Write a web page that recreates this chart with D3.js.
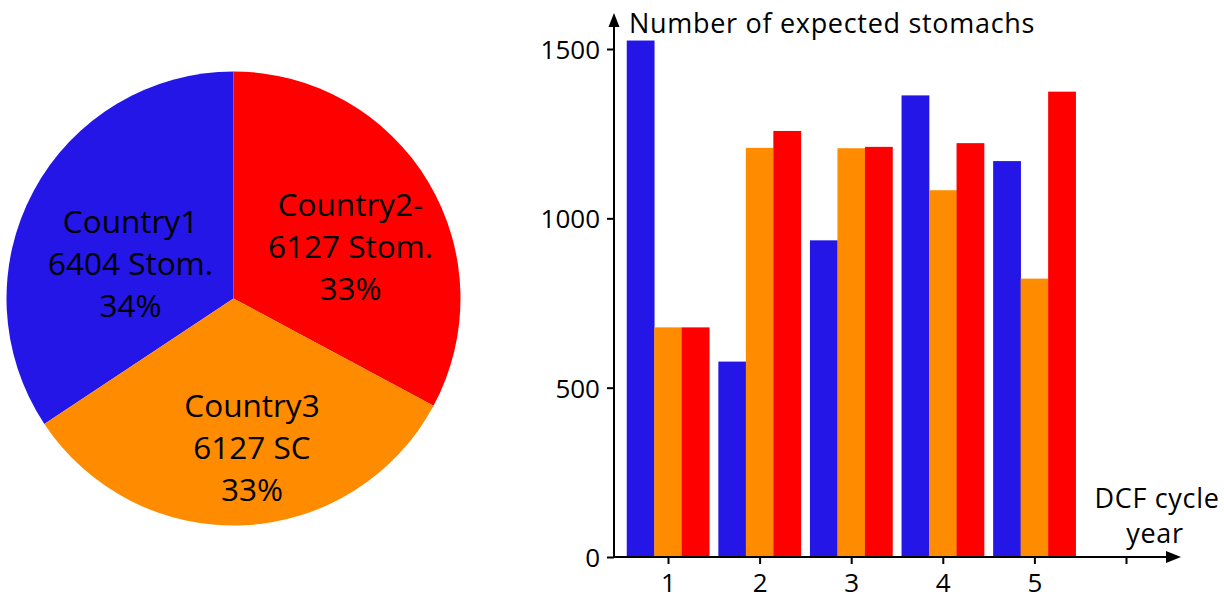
<!DOCTYPE html>
<html>
<head>
<meta charset="utf-8">
<script src="https://cdn.jsdelivr.net/npm/d3@7"></script>
<style>
  html, body { margin: 0; padding: 0; background: #fff; }
  svg { display: block; }
  text { font-family: "Open Sans", "Noto Sans", sans-serif; fill: #000; }
</style>
</head>
<body>
<svg id="chart" width="1224" height="599"></svg>
<script>
// ---- data ----
const countries = ["Country1", "Country2", "Country3"];
const stomachs = [6404, 6127, 6127];
const pieLabels = [
  ["Country1", "6404 Stom.", "34%"],
  ["Country2-", "6127 Stom.", "33%"],
  ["Country3", "6127 SC", "33%"]
];
const years = ["1", "2", "3", "4", "5"];
const country1Bars = [1525, 577, 935, 1363, 1169];
const country3Bars = [678, 1208, 1207, 1083, 822];
const country2Bars = [678, 1258, 1211, 1222, 1374];
const yTicks = [0, 500, 1000, 1500];
const colors = { Country1: "#2416e6", Country2: "#ff0000", Country3: "#ff8c00" };

const svg = d3.select("#chart");

// ---- pie ----
const total = d3.sum(stomachs);
const offset = 2 * Math.PI * stomachs[0] / total;
const pie = d3.pie().sort(null).startAngle(-offset).endAngle(2 * Math.PI - offset);
const pieData = pie(stomachs);
const pieG = svg.append("g").attr("transform", "translate(233.5,298.5)");
const arc = d3.arc().innerRadius(0).outerRadius(227);
pieG.selectAll("path").data(pieData).join("path")
  .attr("d", arc)
  .attr("fill", (d, i) => colors[countries[i]]);

const labelPos = [[-103, -66], [117, -83], [18.5, 118]];
pieLabels.forEach((lines, i) => {
  const t = pieG.append("text")
    .attr("text-anchor", "middle")
    .attr("font-size", 31.5)
    .attr("transform", `translate(${labelPos[i][0]},${labelPos[i][1]})`);
  lines.forEach((l, j) => t.append("tspan").attr("x", 0).attr("y", j * 42).text(l));
});

// ---- bar chart ----
const y = d3.scaleLinear().domain([0, 1500]).range([557, 49]);
const x = d3.scaleLinear().domain([1, 6]).range([668, 1126]);
const seriesNames = ["Country1", "Country3", "Country2"];
const seriesVals = [country1Bars, country3Bars, country2Bars];
const xSub = d3.scaleBand().domain(seriesNames).range([-41.25, 41.25]).padding(0);

const barsG = svg.append("g");
seriesNames.forEach((s, si) => {
  barsG.selectAll(null).data(seriesVals[si]).join("rect")
    .attr("x", (d, i) => x(+years[i]) + xSub(s))
    .attr("width", xSub.bandwidth() + 0.3)
    .attr("y", d => y(d))
    .attr("height", d => y(0) - y(d))
    .attr("fill", colors[s]);
});

// y axis
const yAxis = svg.append("g").attr("transform", "translate(614,0)")
  .call(d3.axisLeft(y).tickValues(yTicks).tickFormat(d3.format("d")).tickSize(7).tickPadding(7));
yAxis.select(".domain").remove();
yAxis.selectAll("line").attr("stroke", "#000").attr("stroke-width", 2);
yAxis.selectAll("text").attr("font-size", 26).attr("font-family", "Open Sans").attr("dy", "0.36em");
svg.append("line").attr("x1", 614).attr("x2", 614).attr("y1", y(0)).attr("y2", 24)
  .attr("stroke", "#000").attr("stroke-width", 2);
svg.append("path").attr("d", "M614,13 L619.5,27 L608.5,27 Z").attr("fill", "#000");

// x axis
const xAxis = svg.append("g").attr("transform", `translate(0,${y(0)})`)
  .call(d3.axisBottom(x).tickValues([1, 2, 3, 4, 5, 6]).tickFormat(d => d <= 5 ? years[d - 1] : "").tickSize(7).tickPadding(10));
xAxis.select(".domain").remove();
xAxis.selectAll("line").attr("stroke", "#000").attr("stroke-width", 2);
xAxis.selectAll("text").attr("font-size", 26).attr("font-family", "Open Sans");
svg.append("line").attr("x1", 613).attr("x2", 1168).attr("y1", y(0)).attr("y2", y(0))
  .attr("stroke", "#000").attr("stroke-width", 2);
svg.append("path").attr("d", `M1181,${y(0)} L1166,${y(0) - 6} L1166,${y(0) + 6} Z`).attr("fill", "#000");

// axis titles
svg.append("text").attr("x", 629).attr("y", 33).attr("font-size", 27)
  .attr("letter-spacing", 0.7).text("Number of expected stomachs");
const xt = svg.append("text").attr("text-anchor", "middle").attr("font-size", 27).attr("letter-spacing", 0.7);
xt.append("tspan").attr("x", 1157).attr("y", 508).text("DCF cycle");
xt.append("tspan").attr("x", 1155).attr("y", 543).text("year");
</script>
</body>
</html>
